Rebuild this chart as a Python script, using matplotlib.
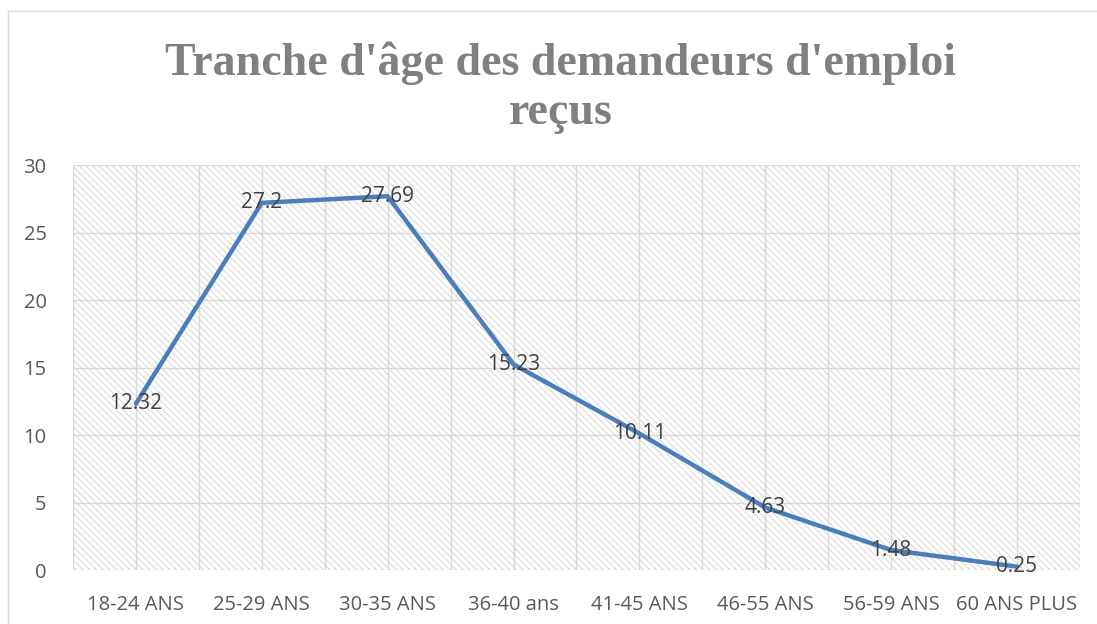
import matplotlib.pyplot as plt
from matplotlib.patches import Rectangle
from matplotlib.lines import Line2D

categories = ['18-24 ANS', '25-29 ANS', '30-35 ANS', '36-40 ans',
              '41-45 ANS', '46-55 ANS', '56-59 ANS', '60 ANS PLUS']
values = [12.32, 27.2, 27.69, 15.23, 10.11, 4.63, 1.48, 0.25]
labels = ['12.32', '27.2', '27.69', '15.23', '10.11', '4.63', '1.48', '0.25']
yticks = [0, 5, 10, 15, 20, 25, 30]

grid_col = '#d9d9d9'
text_col = '#595959'

plt.rcParams['hatch.linewidth'] = 0.9

fig = plt.figure(figsize=(10.97, 6.24), dpi=100)
ax = fig.add_axes([0.0665, 0.0865, 0.918, 0.649])

# hatched background like the excel pattern fill
bg = Rectangle((0, 0), 1, 1, transform=ax.transAxes, facecolor='white',
               edgecolor='#dedede', hatch='\\' * 5, linewidth=0, zorder=0)
ax.add_patch(bg)

x = list(range(len(categories)))
ax.plot(x, values, color='#4a7ebb', linewidth=3.2, solid_joinstyle='round',
        solid_capstyle='round', zorder=3)
for xi, v, lab in zip(x, values, labels):
    ax.text(xi, v, lab, ha='center', va='center', fontsize=15,
            color='#404040', family='Open Sans', zorder=4)

ax.set_xlim(-0.5, len(categories) - 0.5)
ax.set_ylim(0, 30)
ax.set_yticks(yticks)
ax.set_xticks(x)
ax.set_xticklabels(categories)

# grid: horizontal every 5, vertical at every half category
for y in yticks:
    ax.axhline(y, color=grid_col, linewidth=1, zorder=1)
for k in range(2 * len(categories) + 1):
    ax.axvline(-0.5 + k * 0.5, color=grid_col, linewidth=1, zorder=1)

for s in ax.spines.values():
    s.set_visible(False)
ax.tick_params(length=0, labelsize=14.5, colors=text_col, pad=18)
ax.tick_params(axis='y', pad=19)
for t in ax.get_xticklabels() + ax.get_yticklabels():
    t.set_family('Open Sans')
    t.set_color(text_col)

fig.text(0.511, 0.86, "Tranche d'âge des demandeurs d'emploi\nreçus",
         ha='center', va='center', fontsize=33, fontweight='bold',
         family='Liberation Serif', color='#808080', linespacing=1.22)

# chart area border (top and left visible)
fig.add_artist(Line2D([0.0073, 1.0], [0.982, 0.982], color=grid_col,
                      linewidth=1, transform=fig.transFigure))
fig.add_artist(Line2D([0.0073, 0.0073], [0.0, 0.982], color=grid_col,
                      linewidth=1, transform=fig.transFigure))

fig.savefig('out.png', dpi=100)
